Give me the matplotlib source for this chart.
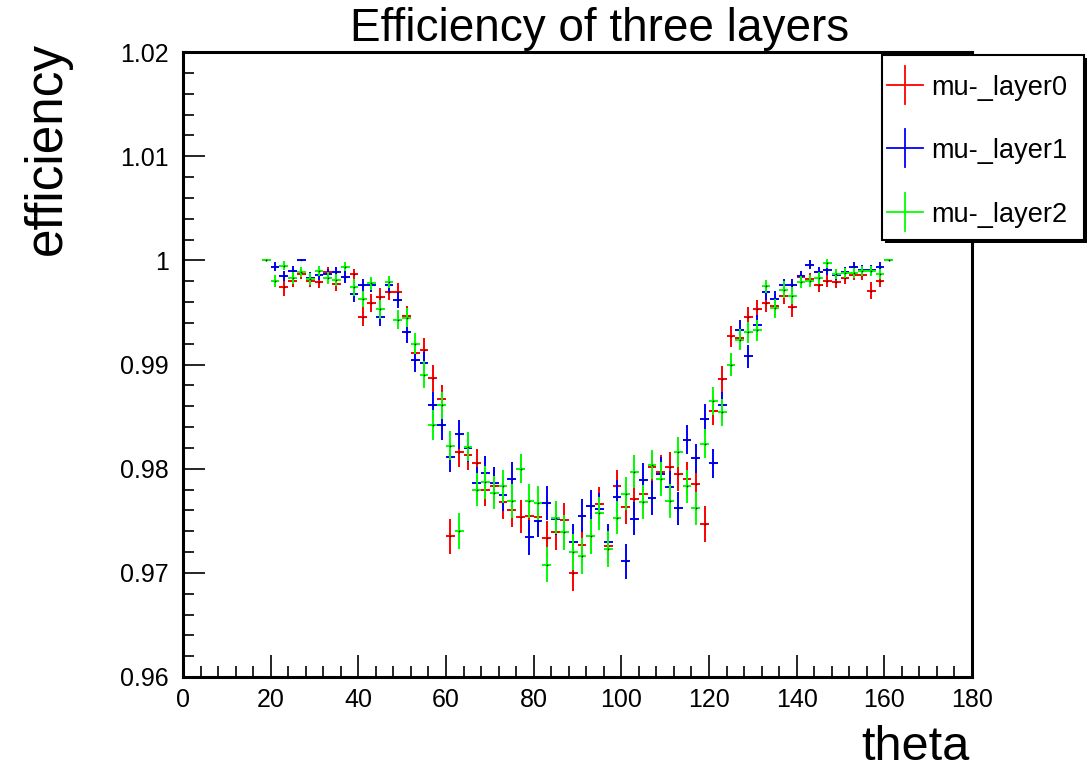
import matplotlib
matplotlib.use("Agg")
import matplotlib.pyplot as plt
from matplotlib.lines import Line2D
from matplotlib.patches import Rectangle
from matplotlib.ticker import FixedLocator, MultipleLocator, FixedFormatter

# ---------------- data ----------------
theta = [19, 21, 23, 25, 27, 29, 31, 33, 35, 37, 39, 41, 43, 45, 47, 49, 51, 53,
         55, 57, 59, 61, 63, 65, 67, 69, 71, 73, 75, 77, 79, 81, 83, 85, 87, 89,
         91, 93, 95, 97, 99, 101, 103, 105, 107, 109, 111, 113, 115, 117, 119, 121, 123, 125,
         127, 129, 131, 133, 135, 137, 139, 141, 143, 145, 147, 149, 151, 153, 155, 157, 159, 161]
theta_halfwidth = 1.0

layer0_eff = [1.0, 0.9980, 0.9974, 0.9980, 0.9987, 0.9980, 0.9979, 0.9989, 0.9977, 0.9984,
              0.9987, 0.9946, 0.9959, 0.9965, 0.9970, 0.9970, 0.9947, 0.9911, 0.9914, 0.9887,
              0.9867, 0.9735, 0.9816, 0.9813, 0.9805, 0.9780, 0.9783, 0.9768, 0.9760, 0.9754,
              0.9755, 0.9754, 0.9733, 0.9739, 0.9751, 0.9700, 0.9727, 0.9735, 0.9766, 0.9726,
              0.9783, 0.9763, 0.9771, 0.9776, 0.9802, 0.9797, 0.9802, 0.9795, 0.9790, 0.9785,
              0.9747, 0.9855, 0.9886, 0.9927, 0.9925, 0.9946, 0.9953, 0.9959, 0.9956, 0.9966,
              0.9955, 0.9984, 0.9982, 0.9976, 0.9980, 0.9979, 0.9983, 0.9986, 0.9986, 0.9971,
              0.9980, 1.0]
layer0_err = [0.0, 0.0006, 0.0008, 0.0006, 0.0005, 0.0006, 0.0006, 0.0005, 0.0006, 0.0006,
              0.0005, 0.0009, 0.0009, 0.0008, 0.0008, 0.0008, 0.0009, 0.0011, 0.0011, 0.0013,
              0.0013, 0.0017, 0.0014, 0.0014, 0.0014, 0.0016, 0.0016, 0.0016, 0.0016, 0.0016,
              0.0016, 0.0016, 0.0017, 0.0017, 0.0016, 0.0017, 0.0017, 0.0017, 0.0016, 0.0017,
              0.0016, 0.0016, 0.0016, 0.0016, 0.0014, 0.0016, 0.0014, 0.0016, 0.0016, 0.0016,
              0.0017, 0.0013, 0.0013, 0.0010, 0.0010, 0.0009, 0.0009, 0.0009, 0.0009, 0.0008,
              0.0009, 0.0006, 0.0006, 0.0006, 0.0006, 0.0006, 0.0006, 0.0005, 0.0005, 0.0008,
              0.0006, 0.0]

layer1_eff = [1.0, 0.9994, 0.9985, 0.9990, 1.0000, 0.9983, 0.9986, 0.9987, 0.9989, 0.9984,
              0.9968, 0.9976, 0.9976, 0.9946, 0.9976, 0.9962, 0.9931, 0.9904, 0.9901, 0.9861,
              0.9842, 0.9811, 0.9833, 0.9820, 0.9786, 0.9796, 0.9786, 0.9775, 0.9790, 0.9800,
              0.9734, 0.9750, 0.9767, 0.9752, 0.9739, 0.9730, 0.9755, 0.9764, 0.9761, 0.9730,
              0.9773, 0.9711, 0.9752, 0.9789, 0.9772, 0.9795, 0.9782, 0.9762, 0.9828, 0.9810,
              0.9848, 0.9805, 0.9861, 0.9900, 0.9933, 0.9908, 0.9938, 0.9970, 0.9963, 0.9976,
              0.9976, 0.9985, 0.9996, 0.9989, 0.9991, 0.9986, 0.9989, 0.9994, 0.9991, 0.9991,
              0.9994, 1.0]
layer1_err = [0.0, 0.0004, 0.0005, 0.0005, 0.0, 0.0006, 0.0005, 0.0005, 0.0005, 0.0006,
              0.0008, 0.0006, 0.0006, 0.0009, 0.0006, 0.0008, 0.0010, 0.0011, 0.0011, 0.0013,
              0.0014, 0.0014, 0.0014, 0.0014, 0.0016, 0.0016, 0.0016, 0.0016, 0.0016, 0.0014,
              0.0017, 0.0016, 0.0016, 0.0016, 0.0017, 0.0017, 0.0016, 0.0016, 0.0016, 0.0017,
              0.0016, 0.0017, 0.0016, 0.0016, 0.0016, 0.0016, 0.0016, 0.0016, 0.0014, 0.0014,
              0.0014, 0.0014, 0.0013, 0.0011, 0.0010, 0.0011, 0.0010, 0.0008, 0.0008, 0.0006,
              0.0006, 0.0005, 0.0004, 0.0005, 0.0005, 0.0005, 0.0005, 0.0004, 0.0005, 0.0005,
              0.0004, 0.0]

layer2_eff = [1.0, 0.9980, 0.9995, 0.9983, 0.9989, 0.9982, 0.9990, 0.9983, 0.9981, 0.9994,
              0.9974, 0.9963, 0.9978, 0.9953, 0.9979, 0.9943, 0.9945, 0.9920, 0.9890, 0.9842,
              0.9861, 0.9822, 0.9740, 0.9821, 0.9780, 0.9787, 0.9777, 0.9783, 0.9769, 0.9800,
              0.9769, 0.9767, 0.9708, 0.9753, 0.9739, 0.9720, 0.9716, 0.9735, 0.9757, 0.9723,
              0.9753, 0.9776, 0.9797, 0.9768, 0.9804, 0.9790, 0.9769, 0.9816, 0.9783, 0.9762,
              0.9824, 0.9865, 0.9854, 0.9900, 0.9924, 0.9931, 0.9933, 0.9975, 0.9954, 0.9972,
              0.9966, 0.9979, 0.9980, 0.9983, 0.9997, 0.9987, 0.9988, 0.9988, 0.9990, 0.9990,
              0.9987, 1.0]
layer2_err = [0.0, 0.0006, 0.0004, 0.0006, 0.0005, 0.0006, 0.0005, 0.0006, 0.0006, 0.0004,
              0.0008, 0.0008, 0.0006, 0.0009, 0.0006, 0.0009, 0.0009, 0.0010, 0.0013, 0.0014,
              0.0013, 0.0014, 0.0017, 0.0014, 0.0016, 0.0016, 0.0016, 0.0016, 0.0016, 0.0014,
              0.0016, 0.0016, 0.0017, 0.0016, 0.0017, 0.0017, 0.0017, 0.0017, 0.0016, 0.0017,
              0.0016, 0.0016, 0.0016, 0.0016, 0.0014, 0.0016, 0.0016, 0.0014, 0.0016, 0.0016,
              0.0014, 0.0013, 0.0013, 0.0011, 0.0010, 0.0010, 0.0010, 0.0006, 0.0009, 0.0008,
              0.0008, 0.0006, 0.0006, 0.0006, 0.0004, 0.0005, 0.0005, 0.0005, 0.0005, 0.0005,
              0.0005, 0.0]

series_names = ["mu-_layer0", "mu-_layer1", "mu-_layer2"]
series_colors = ["#ff0000", "#0000ff", "#00ff00"]

x_ticks = [0, 20, 40, 60, 80, 100, 120, 140, 160, 180]
x_tick_labels = ["0", "20", "40", "60", "80", "100", "120", "140", "160", "180"]
y_ticks = [0.96, 0.97, 0.98, 0.99, 1.00, 1.01, 1.02]
y_tick_labels = ["0.96", "0.97", "0.98", "0.99", "1", "1.01", "1.02"]

# ---------------- figure ----------------
plt.rcParams['font.family'] = ['Liberation Sans', 'DejaVu Sans']
W, H = 1091, 772
fig = plt.figure(figsize=(W / 100, H / 100), dpi=100)
fig.patch.set_facecolor("white")
ax = fig.add_axes([183 / W, 1 - 677 / H, (972 - 183) / W, (677 - 52) / H])

effs = [layer0_eff, layer1_eff, layer2_eff]
errs = [layer0_err, layer1_err, layer2_err]
for eff, err, col in zip(effs, errs, series_colors):
    ax.errorbar(theta, eff, xerr=theta_halfwidth, yerr=err, fmt='none',
                ecolor=col, elinewidth=1.4, capsize=0)
    ax.plot(theta, eff, ls='none', marker='s', ms=1.0, color='black', mew=0)

ax.set_xlim(0, 180)
ax.set_ylim(0.96, 1.02)
ax.xaxis.set_major_locator(FixedLocator(x_ticks))
ax.xaxis.set_major_formatter(FixedFormatter(x_tick_labels))
ax.xaxis.set_minor_locator(MultipleLocator(4))
ax.yaxis.set_major_locator(FixedLocator(y_ticks))
ax.yaxis.set_major_formatter(FixedFormatter(y_tick_labels))
ax.yaxis.set_minor_locator(MultipleLocator(0.002))

ax.tick_params(which='both', direction='in', top=False, right=False,
               labelsize=18, colors='black', width=1.2)
ax.tick_params(which='major', length=16)
ax.tick_params(which='minor', length=8)
ax.tick_params(axis='x', pad=8)
ax.tick_params(axis='y', pad=10)
for sp in ax.spines.values():
    sp.set_linewidth(2.2)

# axis titles (ROOT style: aligned to axis ends)
fig.text(970 / W, 1 - 770 / H, "theta", fontsize=35, ha='right', va='bottom')
fig.text(47 / W, 1 - 148 / H, "efficiency", fontsize=37, rotation=90,
         ha='center', va='center')
fig.text(600 / W, 1 - 41 / H, "Efficiency of three layers", fontsize=33,
         ha='center', va='baseline')

# ---------------- legend (ROOT TLegend look, figure pixel coords) ----------------
def fx(px):
    return px / W

def fy(py):
    return 1 - py / H

box_l, box_r, box_t, box_b = 882, 1084, 55, 240
shadow = Rectangle((fx(box_l + 3), fy(box_b + 3)), fx(box_r - box_l), (box_b - box_t) / H,
                   transform=fig.transFigure, facecolor='black', edgecolor='none', zorder=5)
frame = Rectangle((fx(box_l), fy(box_b)), fx(box_r - box_l), (box_b - box_t) / H,
                  transform=fig.transFigure, facecolor='white', edgecolor='black',
                  linewidth=1.5, zorder=6)
fig.add_artist(shadow)
fig.add_artist(frame)
entry_y = [85, 148, 212]
for name, col, ey in zip(series_names, series_colors, entry_y):
    fig.add_artist(Line2D([fx(887), fx(923)], [fy(ey), fy(ey)], color=col, lw=1.3,
                          transform=fig.transFigure, zorder=7))
    fig.add_artist(Line2D([fx(905), fx(905)], [fy(ey - 19), fy(ey + 19)], color=col, lw=1.3,
                          transform=fig.transFigure, zorder=7))
    fig.text(fx(931), fy(ey), name, fontsize=19.5, ha='left', va='center_baseline',
             zorder=8)

fig.savefig("out.png", dpi=100)
